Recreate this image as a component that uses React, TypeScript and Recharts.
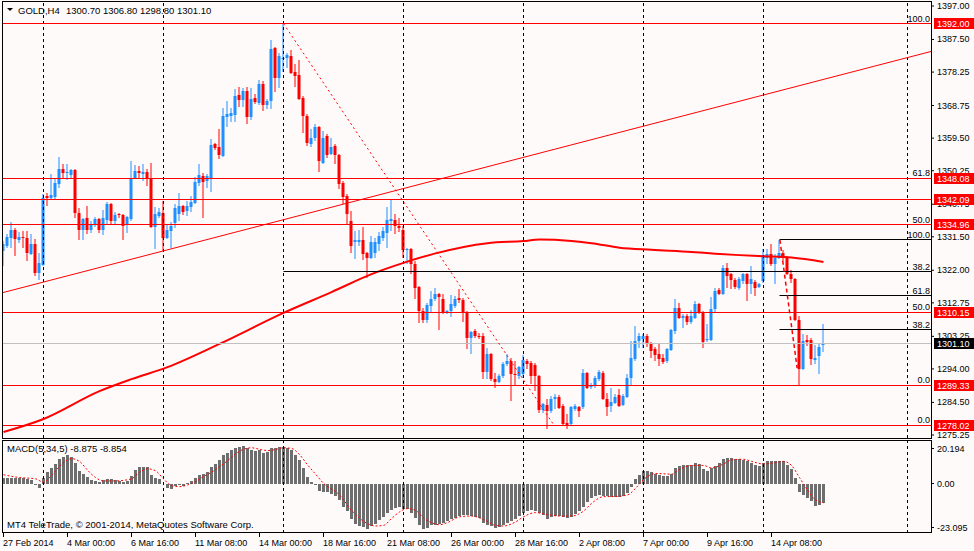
import React from "react";
import { Bar, ComposedChart, Line, ReferenceLine, XAxis, YAxis } from "recharts";

const BG = "#FFFAFA";
const BULL = "#1E90FF"; // rising candles
const BEAR = "#FF0000"; // falling candles
const HIST = "#6E6E6E"; // macd histogram
const FONT = "'Liberation Sans', Arial, sans-serif";

// bar index domain: 4px per H4 bar
const X_DOMAIN: [number, number] = [-0.375, 231.875];
const PRICE_DOMAIN: [number, number] = [1274.4, 1398.42];
const MACD_DOMAIN: [number, number] = [-23.095, 20.194];

// GOLD H4, 27 Feb 08:00 .. 16 Apr 12:00
const opens = [
  1327.5, 1328.9, 1331.2, 1333.4, 1330.6, 1331.4, 1331.2, 1326.6, 1329.5, 1321.2,
  1323.5, 1343.1, 1342.5, 1342.8, 1346.5, 1350.7, 1349.6, 1349.0, 1350.4, 1338.3,
  1333.4, 1336.8, 1333.4, 1334.8, 1336.5, 1333.4, 1336.3, 1340.8, 1336.0, 1338.0,
  1337.7, 1334.8, 1336.5, 1348.2, 1350.1, 1349.3, 1349.9, 1348.2, 1334.3, 1337.4,
  1338.3, 1331.2, 1333.1, 1335.4, 1338.0, 1340.2, 1338.8, 1339.9, 1341.1, 1346.8,
  1348.7, 1347.3, 1348.2, 1357.8, 1357.0, 1354.4, 1365.5, 1365.8, 1366.1, 1371.7,
  1370.3, 1372.9, 1365.5, 1370.9, 1369.5, 1374.9, 1368.9, 1370.0, 1385.1, 1376.6,
  1381.9, 1382.2, 1382.8, 1378.3, 1377.4, 1370.9, 1365.8, 1357.8, 1359.5, 1362.7,
  1352.5, 1360.1, 1355.0, 1357.3, 1354.7, 1346.8, 1343.1, 1336.0, 1330.0, 1330.0,
  1330.6, 1326.9, 1325.5, 1326.9, 1329.5, 1331.2, 1332.6, 1336.0, 1336.3, 1334.6,
  1333.4, 1327.7, 1328.0, 1323.8, 1317.3, 1310.4, 1307.9, 1311.9, 1313.8, 1315.3,
  1313.8, 1310.2, 1310.4, 1311.9, 1314.1, 1313.6, 1309.9, 1302.8, 1304.8, 1303.4,
  1303.4, 1293.1, 1298.2, 1291.1, 1290.3, 1292.0, 1295.4, 1296.2, 1292.6, 1292.0,
  1292.6, 1296.2, 1295.7, 1295.1, 1292.0, 1282.3, 1283.8, 1282.1, 1285.5, 1286.0,
  1283.5, 1278.7, 1278.4, 1282.6, 1283.2, 1283.2, 1292.8, 1288.9, 1289.5, 1291.1,
  1292.8, 1285.5, 1283.5, 1284.3, 1286.6, 1283.8, 1286.0, 1291.4, 1296.8, 1301.9,
  1302.5, 1303.4, 1301.1, 1299.7, 1298.2, 1297.1, 1296.2, 1299.4, 1304.8, 1311.3,
  1308.5, 1309.0, 1307.3, 1308.5, 1312.4, 1309.9, 1302.2, 1302.2, 1311.0, 1316.4,
  1315.3, 1322.6, 1320.9, 1319.2, 1317.0, 1318.9, 1320.9, 1318.1, 1318.7, 1317.3,
  1318.9, 1325.5, 1326.6, 1323.8, 1325.5, 1326.9, 1325.8, 1320.9, 1319.5, 1307.9,
  1294.0, 1302.2, 1302.2, 1296.5, 1297.7, 1300.7,
];
const highs = [
  1330.3, 1332.3, 1335.7, 1334.0, 1332.9, 1333.1, 1333.1, 1332.3, 1330.9, 1326.9,
  1343.6, 1343.9, 1349.3, 1347.9, 1354.1, 1352.2, 1352.2, 1350.7, 1350.7, 1339.7,
  1336.8, 1340.2, 1336.0, 1337.1, 1336.8, 1339.1, 1341.4, 1341.1, 1338.5, 1338.3,
  1338.0, 1337.4, 1353.0, 1351.9, 1351.6, 1352.2, 1350.7, 1352.5, 1339.9, 1339.7,
  1341.7, 1335.1, 1335.7, 1340.8, 1343.9, 1340.5, 1341.7, 1343.1, 1348.5, 1352.2,
  1349.6, 1349.3, 1359.3, 1358.1, 1362.1, 1368.1, 1370.0, 1368.1, 1373.4, 1374.0,
  1373.7, 1374.0, 1373.7, 1372.0, 1376.0, 1375.7, 1370.6, 1387.4, 1385.4, 1383.7,
  1392.0, 1383.7, 1384.5, 1380.5, 1381.7, 1371.5, 1366.3, 1362.1, 1363.5, 1363.0,
  1361.5, 1360.7, 1359.5, 1357.8, 1355.0, 1347.3, 1343.6, 1338.8, 1333.1, 1333.4,
  1334.3, 1327.2, 1331.7, 1331.2, 1332.9, 1334.3, 1339.9, 1341.9, 1338.0, 1336.8,
  1334.6, 1328.3, 1328.3, 1324.6, 1317.6, 1311.3, 1312.7, 1316.1, 1317.0, 1315.6,
  1315.3, 1310.7, 1315.0, 1314.7, 1316.7, 1314.1, 1310.4, 1304.8, 1305.3, 1304.2,
  1304.2, 1299.9, 1298.5, 1292.8, 1292.6, 1296.0, 1298.2, 1297.1, 1296.2, 1294.8,
  1297.9, 1296.8, 1296.2, 1295.7, 1292.3, 1284.3, 1285.5, 1286.3, 1286.9, 1286.6,
  1284.0, 1281.2, 1283.5, 1284.0, 1283.5, 1294.0, 1293.1, 1290.0, 1292.0, 1293.7,
  1293.4, 1287.2, 1288.6, 1286.9, 1288.3, 1286.9, 1292.6, 1301.9, 1306.2, 1304.2,
  1303.9, 1303.9, 1301.6, 1300.2, 1301.4, 1298.2, 1299.9, 1305.3, 1313.8, 1312.7,
  1309.6, 1309.6, 1310.7, 1313.3, 1312.7, 1310.4, 1306.8, 1314.4, 1317.0, 1317.0,
  1323.5, 1324.1, 1321.2, 1319.8, 1320.1, 1321.2, 1321.2, 1323.2, 1319.2, 1318.4,
  1328.0, 1328.0, 1329.5, 1326.6, 1330.6, 1327.7, 1326.0, 1322.1, 1319.8, 1309.0,
  1303.9, 1303.6, 1302.8, 1300.7, 1301.4, 1306.8,
];
const lows = [
  1323.2, 1328.3, 1328.3, 1326.0, 1329.7, 1328.3, 1324.6, 1326.3, 1320.4, 1319.2,
  1323.2, 1340.2, 1341.9, 1341.9, 1345.4, 1347.9, 1347.6, 1347.9, 1336.8, 1330.6,
  1330.6, 1332.3, 1332.6, 1334.3, 1332.6, 1332.0, 1334.8, 1334.8, 1334.8, 1336.8,
  1330.6, 1332.6, 1336.0, 1347.9, 1348.2, 1347.3, 1345.9, 1334.0, 1328.0, 1336.8,
  1327.5, 1330.9, 1328.3, 1334.0, 1336.0, 1337.7, 1337.4, 1338.5, 1340.8, 1345.9,
  1336.8, 1345.4, 1344.2, 1356.1, 1353.6, 1354.1, 1362.7, 1364.0, 1364.1, 1368.3,
  1368.3, 1363.5, 1364.6, 1369.2, 1368.9, 1367.2, 1367.8, 1367.8, 1372.6, 1373.7,
  1378.3, 1379.4, 1377.7, 1374.0, 1370.3, 1360.9, 1357.3, 1357.0, 1358.7, 1349.9,
  1352.3, 1353.9, 1354.7, 1352.2, 1345.1, 1340.8, 1334.8, 1326.9, 1325.2, 1328.9,
  1324.9, 1319.8, 1325.2, 1325.5, 1327.5, 1330.3, 1328.3, 1333.1, 1332.3, 1332.9,
  1325.5, 1323.8, 1320.9, 1313.8, 1307.0, 1307.0, 1307.0, 1309.9, 1313.3, 1305.0,
  1309.6, 1309.6, 1308.7, 1311.3, 1312.7, 1307.3, 1299.7, 1298.3, 1302.8, 1302.5,
  1291.1, 1291.1, 1290.5, 1288.6, 1290.0, 1291.4, 1294.8, 1284.9, 1289.2, 1291.1,
  1291.4, 1294.0, 1289.7, 1287.7, 1281.5, 1281.5, 1276.9, 1281.5, 1282.6, 1282.6,
  1278.1, 1276.9, 1277.8, 1282.1, 1280.4, 1282.6, 1288.3, 1288.3, 1288.6, 1290.5,
  1285.2, 1280.6, 1281.8, 1284.0, 1283.2, 1283.5, 1285.8, 1289.2, 1296.2, 1299.9,
  1299.9, 1300.2, 1297.1, 1296.2, 1294.8, 1295.4, 1295.6, 1299.1, 1303.9, 1308.2,
  1305.6, 1306.4, 1306.7, 1308.2, 1309.6, 1299.9, 1301.6, 1301.9, 1309.9, 1315.0,
  1315.0, 1317.0, 1316.7, 1316.7, 1316.4, 1318.1, 1313.3, 1315.3, 1314.7, 1317.0,
  1318.4, 1323.8, 1323.2, 1318.1, 1325.2, 1324.6, 1320.6, 1318.4, 1307.6, 1289.3,
  1293.7, 1300.4, 1295.1, 1295.4, 1292.6, 1298.8,
];
const closes = [
  1329.5, 1331.4, 1333.4, 1330.9, 1331.4, 1331.1, 1326.9, 1329.5, 1321.2, 1324.1,
  1342.5, 1342.5, 1343.4, 1346.8, 1350.7, 1349.6, 1349.9, 1350.4, 1338.3, 1333.4,
  1336.5, 1333.4, 1335.1, 1336.5, 1333.4, 1336.8, 1340.8, 1336.0, 1337.7, 1337.7,
  1334.6, 1337.1, 1348.2, 1350.1, 1349.6, 1349.9, 1348.2, 1334.3, 1338.0, 1338.5,
  1331.2, 1333.4, 1334.6, 1339.7, 1340.2, 1338.5, 1340.2, 1341.4, 1347.1, 1349.0,
  1347.1, 1348.7, 1357.6, 1356.7, 1354.7, 1365.8, 1366.3, 1366.5, 1371.5, 1370.3,
  1372.9, 1365.5, 1370.6, 1369.8, 1374.9, 1368.9, 1370.0, 1384.8, 1376.6, 1382.8,
  1382.2, 1383.1, 1378.0, 1377.1, 1370.6, 1365.8, 1358.1, 1359.5, 1362.7, 1353.0,
  1359.5, 1354.7, 1357.0, 1354.7, 1346.5, 1342.8, 1338.0, 1328.9, 1330.6, 1330.6,
  1326.6, 1325.5, 1330.0, 1330.0, 1331.7, 1333.1, 1336.3, 1336.5, 1334.6, 1334.0,
  1327.7, 1328.0, 1323.8, 1317.0, 1310.4, 1307.9, 1312.1, 1313.8, 1315.3, 1314.4,
  1310.2, 1310.4, 1312.4, 1313.8, 1313.6, 1309.9, 1302.8, 1304.5, 1303.4, 1303.1,
  1293.1, 1298.2, 1291.1, 1290.3, 1292.0, 1295.4, 1296.2, 1292.6, 1292.3, 1294.6,
  1296.5, 1295.4, 1292.0, 1292.0, 1282.3, 1284.0, 1282.1, 1285.5, 1286.0, 1282.9,
  1278.4, 1278.1, 1283.2, 1283.5, 1282.1, 1292.8, 1288.6, 1289.5, 1291.4, 1293.1,
  1285.5, 1283.2, 1284.6, 1286.0, 1283.5, 1286.3, 1291.4, 1297.1, 1301.9, 1303.4,
  1303.4, 1301.1, 1299.1, 1298.0, 1296.8, 1295.9, 1299.7, 1305.0, 1311.3, 1308.5,
  1309.0, 1307.3, 1309.0, 1312.4, 1309.9, 1301.6, 1302.5, 1311.0, 1316.1, 1315.3,
  1322.6, 1320.4, 1319.2, 1317.3, 1319.5, 1320.9, 1318.1, 1319.5, 1317.0, 1318.1,
  1326.3, 1326.6, 1323.8, 1325.5, 1326.9, 1325.8, 1320.9, 1319.5, 1307.9, 1294.0,
  1301.9, 1301.6, 1296.8, 1297.1, 1300.2, 1301.1,
];

// moving average, read at selected bars: [bar, price]
const maPoints: [number, number][] = [
  [0, 1276.1], [10, 1279.8], [24, 1287.7], [32, 1291.1], [41, 1294.5], [54, 1301.1],
  [70, 1309.9], [82, 1315.8], [92, 1320.9], [100, 1324.1], [108, 1326.8], [121, 1329.7],
  [130, 1330.3], [134, 1330.7], [142, 1330.3], [147, 1329.7], [154, 1328.4], [162, 1327.8],
  [172, 1327.2], [178, 1326.7], [184, 1326.3], [190, 1326.0], [197, 1325.6], [205, 1324.35],
];

// MACD(5,34,5) main histogram
const macdHist = [
  3.0, 3.0, 2.7, 3.0, 2.7, 2.7, 2.4, 1.7, -0.5, -1.7,
  3.0, 5.5, 7.5, 9.4, 11.7, 12.5, 13.5, 12.8, 9.7, 6.2,
  4.6, 3.3, 1.7, 1.4, 1.1, 1.7, 2.4, 2.1, 1.7, 1.4,
  1.1, 1.4, 3.6, 6.5, 7.8, 8.1, 8.1, 4.3, 3.0, 2.4,
  0.0, -1.7, -2.4, -0.8, -0.5, -0.8, 0.2, 1.4, 3.0, 4.3,
  4.9, 5.5, 8.1, 9.4, 11.3, 13.5, 14.6, 16.0, 17.0, 17.3,
  17.8, 16.7, 16.0, 15.7, 16.0, 14.6, 15.1, 17.0, 16.7, 17.3,
  17.6, 17.0, 16.0, 13.8, 11.4, 7.5, 3.3, 0.8, -0.5, -3.3,
  -3.6, -4.0, -4.9, -5.6, -7.6, -10.8, -12.8, -16.7, -18.7, -19.8,
  -20.3, -21.2, -19.8, -18.9, -17.1, -15.7, -13.8, -12.4, -11.3, -10.8,
  -11.6, -11.9, -13.5, -16.0, -19.2, -21.1, -20.8, -19.5, -19.2, -18.9,
  -18.4, -17.6, -16.7, -16.0, -15.1, -14.7, -14.7, -15.1, -15.4, -16.0,
  -18.6, -19.2, -19.8, -20.6, -20.1, -19.5, -18.6, -17.6, -16.3, -15.1,
  -13.5, -12.8, -12.5, -12.8, -13.5, -14.4, -16.3, -15.4, -15.1, -15.1,
  -15.5, -16.0, -15.4, -14.1, -12.8, -10.8, -8.7, -6.8, -5.9, -5.2,
  -5.6, -5.6, -6.2, -6.2, -6.2, -5.9, -4.4, -1.3, 2.4, 4.3,
  5.9, 6.2, 5.5, 4.6, 4.0, 3.6, 3.6, 4.9, 7.5, 8.4,
  9.0, 8.7, 9.0, 9.7, 9.4, 7.1, 6.2, 7.5, 8.4, 9.7,
  11.9, 12.2, 12.2, 11.6, 11.6, 11.3, 10.6, 9.7, 8.7, 8.4,
  9.7, 10.9, 10.6, 10.9, 10.9, 10.6, 9.0, 7.1, 3.0, -4.0,
  -5.2, -6.8, -8.1, -10.3, -9.7, -8.875,
];

// MACD signal line, read at selected bars: [bar, value]
const signalPoints: [number, number][] = [
  [0, 4.3], [4, 3.0], [8, 2.4], [10, 0.8], [12, 4.0], [14, 8.2], [16, 11.3], [17, 11.9],
  [19, 10.6], [21, 6.5], [23, 3.0], [25, 1.4], [28, 1.4], [32, 2.4], [34, 5.5], [36, 7.1],
  [38, 6.2], [40, 2.4], [42, -0.8], [44, -1.3], [46, -0.5], [48, 1.1], [50, 3.5], [52, 5.5],
  [54, 8.1], [56, 10.9], [58, 14.1], [60, 16.3], [62, 17.0], [64, 16.3], [66, 15.7], [68, 16.2],
  [70, 17.0], [72, 16.7], [74, 13.8], [76, 9.0], [78, 4.6], [80, 0.3], [84, -5.2], [87, -12.4],
  [91, -18.7], [93, -19.8], [95, -19.5], [97, -16.3], [99, -13.2], [101, -11.6], [103, -12.4],
  [105, -16.0], [107, -18.2], [109, -19.2], [111, -18.2], [114, -15.5], [117, -15.1], [120, -16.7],
  [123, -19.5], [125, -19.8], [128, -17.9], [130, -15.5], [133, -13.5], [136, -14.4], [139, -15.1],
  [142, -15.1], [145, -12.8], [147, -9.2], [150, -6.0], [153, -5.9], [156, -5.2], [158, -2.1],
  [160, 2.0], [163, 4.9], [167, 4.6], [169, 6.8], [172, 8.7], [175, 8.7], [177, 7.5], [180, 9.4],
  [182, 11.3], [185, 11.6], [187, 10.6], [190, 9.4], [192, 9.7], [195, 10.6], [197, 8.7],
  [199, 3.0], [201, -2.9], [203, -7.6], [205, -8.854],
];

const timeTickBars = [0, 16, 32, 48, 64, 80, 96, 112, 128, 144, 160, 176, 192];
const timeLabels = [
  "27 Feb 2014", "4 Mar 00:00", "6 Mar 16:00", "11 Mar 08:00", "14 Mar 00:00",
  "18 Mar 16:00", "21 Mar 08:00", "26 Mar 00:00", "28 Mar 16:00", "2 Apr 08:00",
  "7 Apr 00:00", "9 Apr 16:00", "14 Apr 08:00",
];
const gridBars = [10, 40, 70, 100, 130, 160, 190, 226];

const priceTicks = [
  1397.0, 1387.5, 1378.25, 1368.75, 1359.5, 1350.25, 1340.75, 1331.5, 1322.0, 1312.75,
  1303.25, 1294.0, 1284.5, 1275.25,
];
const macdTicks = [20.194, 0, -23.095];

// horizontal levels drawn on the chart
const redLevels = [1392.0, 1348.08, 1342.09, 1334.96, 1310.15, 1289.33, 1278.02];
const fibA = { start: 70, levels: [["100.0", 1392.0], ["61.8", 1348.08], ["50.0", 1334.96], ["38.2", 1321.56], ["0.0", 1278.02]] as [string, number][] };
const fibB = { start: 194, levels: [["100.0", 1330.6], ["61.8", 1314.83], ["50.0", 1310.15], ["38.2", 1305.1], ["0.0", 1289.33]] as [string, number][] };

// trend lines: [bar, price] end points
const channelLine: [number, number][] = [[-0.375, 1315.6], [231.875, 1384.1]];
const dropLineA: [number, number][] = [[70, 1392.0], [137.4, 1278.4]];
const dropLineB: [number, number][] = [[194.1, 1330.6], [198.4, 1294.3]];

const maByBar = new Map(maPoints);
const sigByBar = new Map(signalPoints);

const candles = closes.map((c, i) => ({
  bar: i,
  o: opens[i],
  h: highs[i],
  l: lows[i],
  c,
  ma: maByBar.get(i) ?? null,
}));
const macdData = macdHist.map((v, i) => ({ bar: i, hist: v, sig: sigByBar.get(i) ?? null }));

const last = candles[candles.length - 1];

function Candle(props: any) {
  const { x, y, width, height, payload } = props;
  if (!payload || !Number.isFinite(y)) return null;
  const { o, h, l, c } = payload;
  const cx = x + width / 2;
  const k = h > l ? height / (h - l) : 0;
  const top = Math.round(y + (h - Math.max(o, c)) * k);
  const bot = Math.round(y + (h - Math.min(o, c)) * k);
  const color = c >= o ? BULL : BEAR;
  return (
    <g>
      <line x1={cx} x2={cx} y1={Math.round(y)} y2={Math.round(y + height)} stroke={color} strokeWidth={1} />
      <rect x={cx - 1.5} y={top} width={3} height={Math.max(bot - top, 1)} fill={color} />
    </g>
  );
}

// histogram column snapped to whole pixels
function HistBar(props: any) {
  const { x, y, width, height } = props;
  if (!Number.isFinite(y) || !Number.isFinite(height)) return null;
  const cx = x + width / 2;
  const top = Math.round(Math.min(y, y + height));
  const bot = Math.round(Math.max(y, y + height));
  if (bot - top < 1) return null;
  return <rect x={Math.round(cx - 1.5)} y={top} width={3} height={bot - top} fill={HIST} />;
}

// keeps 1px horizontal lines on a pixel row
function CrispLine(props: any) {
  const { x1, x2, y1, y2, stroke, strokeDasharray, strokeWidth } = props;
  const snap = (v: number) => (y1 === y2 ? Math.floor(v) + 0.5 : v);
  return (
    <line x1={x1} x2={x2} y1={snap(y1)} y2={snap(y2)} stroke={stroke} strokeWidth={strokeWidth ?? 1} strokeDasharray={strokeDasharray} fill="none" />
  );
}

function PriceTag(props: any) {
  const { viewBox, text, fill } = props;
  if (!viewBox) return null;
  const right = viewBox.x + viewBox.width;
  const ly = Math.floor(viewBox.y) + 0.5;
  return (
    <g>
      <rect x={right + 3} y={ly - 5.5} width={45} height={11} fill={fill} />
      <text x={right + 6} y={ly + 3.5} fontSize={9} fontFamily={FONT} fill="#FFFFFF">{text}</text>
    </g>
  );
}

function FibTag(props: any) {
  const { viewBox, text } = props;
  if (!viewBox) return null;
  return (
    <text x={viewBox.x + viewBox.width - 1} y={viewBox.y - 2} textAnchor="end" fontSize={9} fontFamily={FONT} fill="#000">
      {text}
    </text>
  );
}

function PriceTick(props: any) {
  const { x, y, payload } = props;
  return (
    <text x={x} y={y} dy={3} fontSize={9} fontFamily={FONT} fill="#000">
      {Number(payload.value).toFixed(2)}
    </text>
  );
}

function MacdTick(props: any) {
  const { x, y, payload } = props;
  const v = Number(payload.value);
  const dy = v > 0 ? 7 : v < 0 ? -6 : 0;
  const yy = Math.floor(y + dy) + 0.5;
  return (
    <g>
      <line x1={x - 6} x2={x - 3} y1={yy} y2={yy} stroke="#000" />
      <text x={x} y={yy} dy={3} fontSize={9} fontFamily={FONT} fill="#000">
        {v === 0 ? "0.00" : v.toFixed(3)}
      </text>
    </g>
  );
}

function TimeTick(props: any) {
  const { x, y, payload } = props;
  const label = timeLabels[timeTickBars.indexOf(payload.value)];
  const tx = Math.floor(x) + 0.5;
  return (
    <g>
      <line x1={tx} x2={tx} y1={y} y2={y + 4} stroke="#000" />
      <text x={x - 0.5} y={y + 12.5} fontSize={9} fontFamily={FONT} fill="#000">{label}</text>
    </g>
  );
}

const mainMargin = { top: 1, right: 0, bottom: 2, left: 2 };

export default function App() {
  const fibLines = [fibA, fibB].flatMap((f, fi) =>
    f.levels.map(([name, price]) => (
      <ReferenceLine
        key={`fib-${fi}-${name}`}
        segment={[{ x: f.start, y: price }, { x: X_DOMAIN[1], y: price }]}
        stroke="#000"
        ifOverflow="visible"
        shape={<CrispLine />}
        label={<FibTag text={name} />}
      />
    )),
  );

  return (
    <div style={{ position: "absolute", left: 0, top: 0, width: 974, height: 551, background: BG, overflow: "hidden" }}>
      {/* price window: grid, candles, moving average, axis */}
      <div style={{ position: "absolute", left: 0, top: 0 }}>
        <ComposedChart width={974} height={440} data={candles} margin={mainMargin}>
          <XAxis type="number" dataKey="bar" domain={X_DOMAIN} allowDataOverflow hide />
          <YAxis
            orientation="right"
            domain={PRICE_DOMAIN}
            allowDataOverflow
            ticks={priceTicks}
            interval={0}
            width={43}
            axisLine={false}
            tickLine={{ stroke: "#000" }}
            tickSize={3}
            tickMargin={3}
            tick={<PriceTick />}
          />
          {gridBars.map((b) => (
            <ReferenceLine key={`g${b}`} x={b} stroke="#000" strokeDasharray="3 3" ifOverflow="visible" />
          ))}
          <Bar
            dataKey={(d: any) => [d.l, d.h]}
            barSize={3}
            shape={(p: any) => <Candle {...p} />}
            isAnimationActive={false}
          />
          <Line dataKey="ma" stroke="#FF0000" strokeWidth={2} dot={false} connectNulls type="monotone" isAnimationActive={false} />
        </ComposedChart>
      </div>

      {/* objects drawn on top: levels, fibonacci, trend lines, price tags */}
      <div style={{ position: "absolute", left: 0, top: 0 }}>
        <ComposedChart width={974} height={440} data={candles} margin={mainMargin}>
          <XAxis type="number" dataKey="bar" domain={X_DOMAIN} allowDataOverflow hide />
          <YAxis orientation="right" domain={PRICE_DOMAIN} allowDataOverflow width={43} axisLine={false} tickLine={false} tick={false} />
          {fibLines}
          <ReferenceLine y={last.c} stroke="#C0C0C0" shape={<CrispLine />} label={<PriceTag text={last.c.toFixed(2)} fill="#000000" />} />
          {redLevels.map((p) => (
            <ReferenceLine key={`r${p}`} y={p} stroke="#FF0000" shape={<CrispLine />} label={<PriceTag text={p.toFixed(2)} fill="#FF0000" />} />
          ))}
          <ReferenceLine
            segment={channelLine.map(([x, y]) => ({ x, y }))}
            stroke="#FF0000"
            ifOverflow="visible"
          />
          <ReferenceLine
            segment={dropLineA.map(([x, y]) => ({ x, y }))}
            stroke="#FF0000"
            strokeDasharray="2 3"
            ifOverflow="visible"
          />
          <ReferenceLine
            segment={dropLineB.map(([x, y]) => ({ x, y }))}
            stroke="#FF0000"
            strokeWidth={1.5}
            strokeDasharray="4 3"
            ifOverflow="visible"
          />
        </ComposedChart>
      </div>

      {/* MACD window with the time axis */}
      <div style={{ position: "absolute", left: 0, top: 440 }}>
        <ComposedChart width={974} height={111} data={macdData} margin={{ top: 1, right: 0, bottom: 0, left: 2 }}>
          <XAxis
            type="number"
            dataKey="bar"
            domain={X_DOMAIN}
            allowDataOverflow
            ticks={timeTickBars}
            interval={0}
            height={18}
            axisLine={false}
            tickLine={false}
            tickSize={0}
            tickMargin={0}
            tick={<TimeTick />}
          />
          <YAxis
            orientation="right"
            domain={MACD_DOMAIN}
            allowDataOverflow
            ticks={macdTicks}
            interval={0}
            width={43}
            axisLine={false}
            tickLine={false}
            tickSize={3}
            tickMargin={3}
            tick={<MacdTick />}
          />
          {gridBars.map((b) => (
            <ReferenceLine key={`mg${b}`} x={b} stroke="#000" strokeDasharray="3 3" ifOverflow="visible" />
          ))}
          <Bar dataKey="hist" barSize={3} shape={(p: any) => <HistBar {...p} />} isAnimationActive={false} />
          <Line dataKey="sig" stroke="#FF0000" strokeDasharray="2 2" dot={false} connectNulls type="monotone" isAnimationActive={false} />
        </ComposedChart>
      </div>

      {/* window frames and captions */}
      <svg width={974} height={551} style={{ position: "absolute", left: 0, top: 0, pointerEvents: "none" }}>
        <rect x={2.5} y={1.5} width={929} height={437} fill="none" stroke="#000" />
        <rect x={2.5} y={440.5} width={929} height={92} fill="none" stroke="#000" />
        <polygon points="7,8 13,8 10,11" fill="#000" />
        <text x={18} y={14} fontSize={9.5} fontFamily={FONT} fill="#000">GOLD,H4</text>
        <text x={66} y={14} fontSize={9.5} fontFamily={FONT} fill="#000">
          {`${last.o.toFixed(2)} ${last.h.toFixed(2)} ${last.l.toFixed(2)} ${last.c.toFixed(2)}`}
        </text>
        <text x={7} y={452} fontSize={9.5} fontFamily={FONT} fill="#000">
          {`MACD(5,34,5) ${macdHist[macdHist.length - 1].toFixed(3)} ${signalPoints[signalPoints.length - 1][1].toFixed(3)}`}
        </text>
        <text x={7} y={528} fontSize={9.5} fontFamily={FONT} fill="#000">
          MT4 TeleTrade, © 2001-2014, MetaQuotes Software Corp.
        </text>
      </svg>
    </div>
  );
}
